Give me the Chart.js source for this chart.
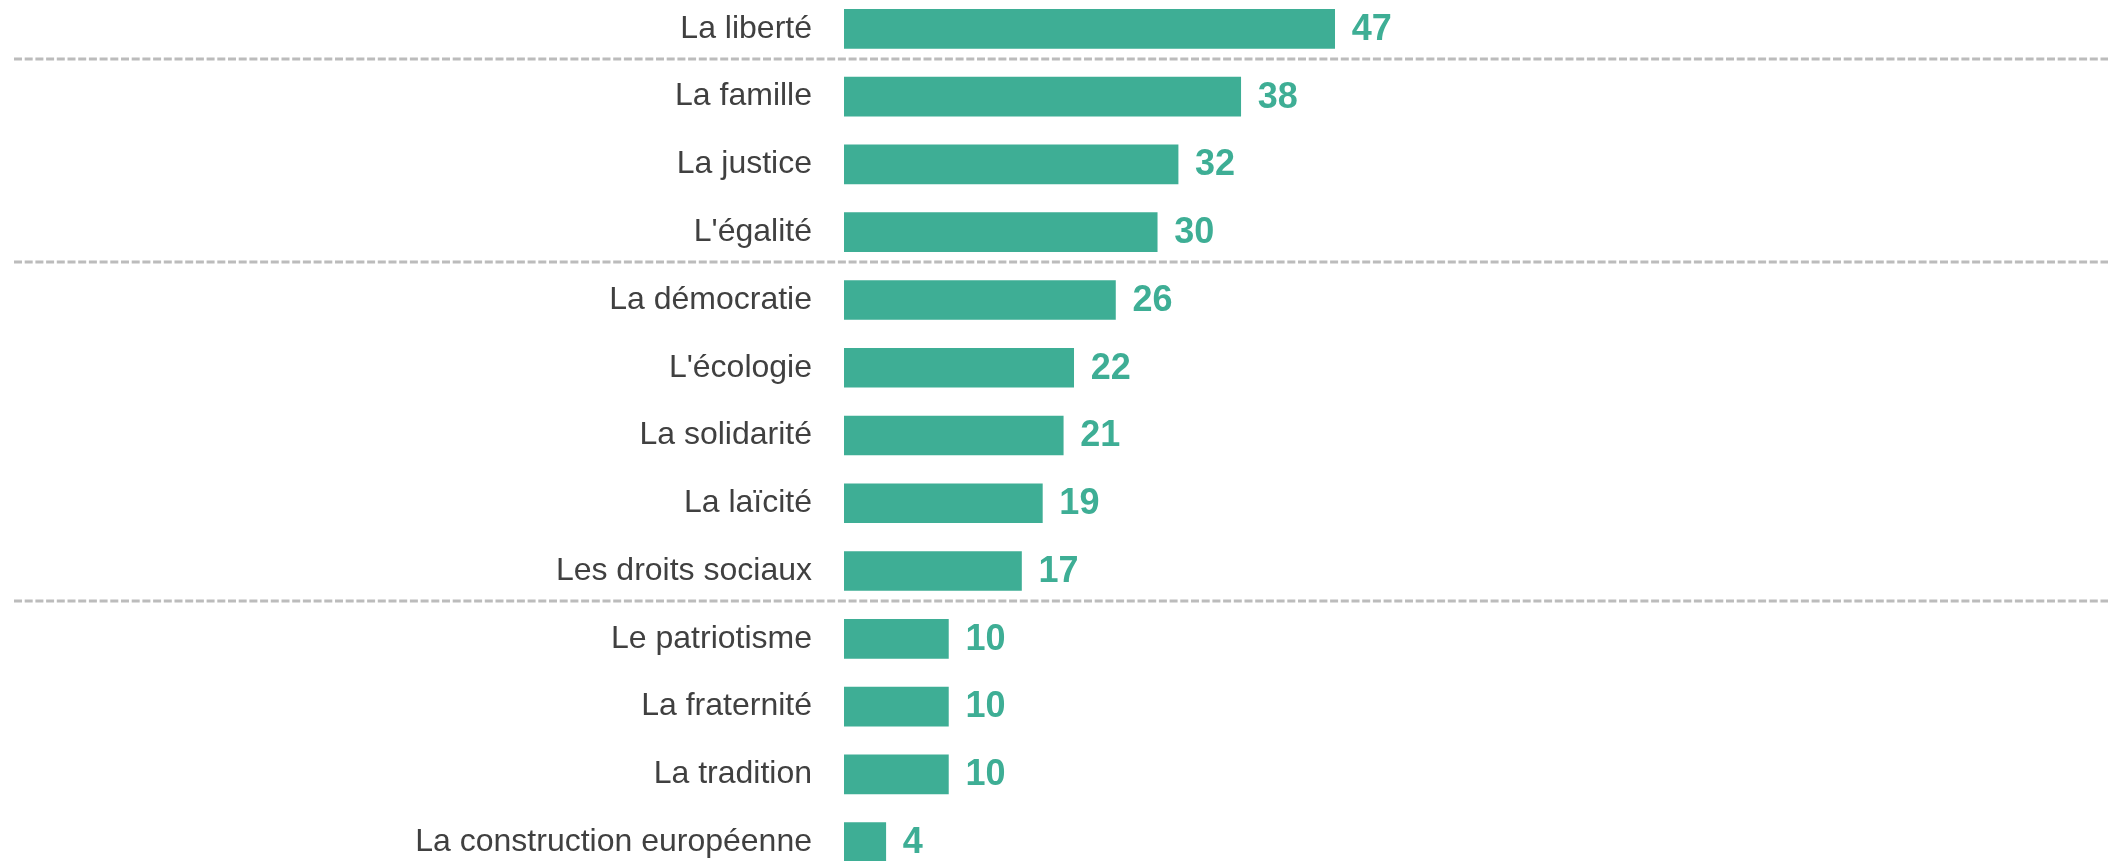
<!DOCTYPE html>
<html>
<head>
<meta charset="utf-8">
<script src="https://cdn.jsdelivr.net/npm/chart.js@4"></script>
<style>
    body { margin: 0; background: #fff; overflow: hidden; }
    #wrap { width: 2108px; height: 861px; position: relative; overflow: hidden; }
    #inner { position: absolute; left: 0; top: -5px; width: 2108px; height: 881px; }
</style>
</head>
<body>
<div id="wrap"><div id="inner"><canvas id="valeursChart"></canvas></div></div>
<script>
const categories = ['La liberté', 'La famille', 'La justice', "L'égalité", 'La démocratie', "L'écologie",
    'La solidarité', 'La laïcité', 'Les droits sociaux', 'Le patriotisme', 'La fraternité',
    'La tradition', 'La construction européenne'];
const values = [47, 38, 32, 30, 26, 22, 21, 19, 17, 10, 10, 10, 4];
const groupBreaks = [0, 3, 8]; // ligne pointillée après ces lignes

const green = '#3eae95';

// lignes pointillées entre les groupes
const separatorPlugin = {
    id: 'separators',
    beforeDatasetsDraw(chart) {
        const ctx = chart.ctx;
        const y = chart.scales.y;
        ctx.save();
        ctx.strokeStyle = '#bcbcbc';
        ctx.lineWidth = 3;
        ctx.setLineDash([8, 2.7]);
        groupBreaks.forEach(i => {
            const py = Math.round(y.getPixelForValue(i + 0.5)) - 4;
            ctx.beginPath();
            ctx.moveTo(14, py);
            ctx.lineTo(chart.width, py);
            ctx.stroke();
        });
        ctx.restore();
    }
};

// valeurs à droite des barres
const valueLabels = {
    id: 'valueLabels',
    afterDatasetsDraw(chart) {
        const ctx = chart.ctx;
        const meta = chart.getDatasetMeta(0);
        ctx.save();
        ctx.font = 'bold 36px "Liberation Sans", Arial, sans-serif';
        ctx.fillStyle = green;
        ctx.textAlign = 'left';
        ctx.textBaseline = 'middle';
        meta.data.forEach((bar, i) => {
            ctx.fillText(values[i], bar.x + 17, bar.y + 1);
        });
        ctx.restore();
    }
};

const chartCtx = document.getElementById('valeursChart').getContext('2d');
new Chart(chartCtx, {
    type: 'bar',
    data: {
        labels: categories,
        datasets: [{
            data: values,
            backgroundColor: green,
            borderWidth: 0,
            barThickness: 39,
        }]
    },
    options: {
        indexAxis: 'y',
        responsive: true,
        maintainAspectRatio: false,
        animation: false,
        layout: {
            padding: { left: 0, right: 220, top: 0, bottom: 0 }
        },
        plugins: {
            legend: { display: false },
            tooltip: { enabled: false },
        },
        scales: {
            x: {
                display: false,
                min: 0,
                max: 100,
            },
            y: {
                grid: { display: false, drawTicks: false },
                border: { display: false },
                ticks: {
                    padding: 32,
                    color: '#404040',
                    font: { family: '"Liberation Sans", Arial, sans-serif', size: 32 },
                },
                afterFit(scale) {
                    scale.width = 844;
                    // pas de marge haut/bas due aux libellés
                    scale.paddingTop = 0;
                    scale.paddingBottom = 0;
                }
            }
        }
    },
    plugins: [separatorPlugin, valueLabels]
});
</script>
</body>
</html>
